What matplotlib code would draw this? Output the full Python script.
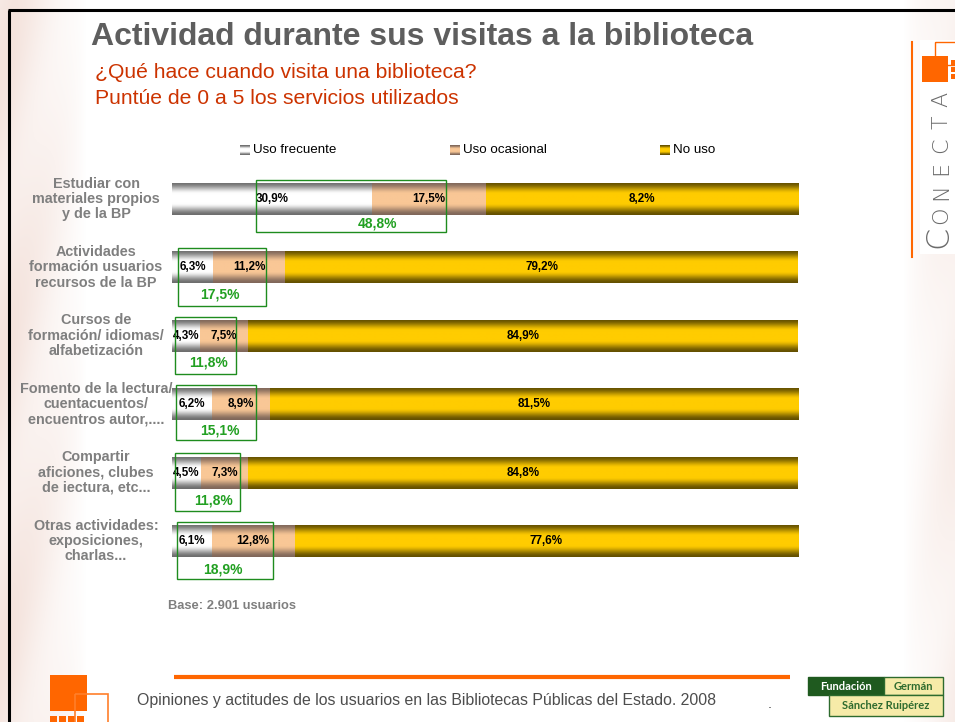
import numpy as np
import matplotlib
matplotlib.use("Agg")
import matplotlib.pyplot as plt
from matplotlib.patches import Rectangle

# ---------------- data ----------------
categorias = [
    "Estudiar con\nmateriales propios\ny de la BP",
    "Actividades\nformación usuarios\nrecursos de la BP",
    "Cursos de\nformación/ idiomas/\nalfabetización",
    "Fomento de la lectura/\ncuentacuentos/\nencuentros autor,....",
    "Compartir\naficiones, clubes\nde iectura, etc...",
    "Otras actividades:\nexposiciones,\ncharlas...",
]
frecuente = [30.9, 6.3, 4.3, 6.2, 4.5, 6.1]
ocasional = [17.5, 11.2, 7.5, 8.9, 7.3, 12.8]
no_uso = [48.2, 79.2, 84.9, 81.5, 84.8, 77.6]
no_uso_etiquetas = ["8,2%", "79,2%", "84,9%", "81,5%", "84,8%", "77,6%"]
totales = [48.8, 17.5, 11.8, 15.1, 11.8, 18.9]
series_nombres = ["Uso frecuente", "Uso ocasional", "No uso"]

# ---------------- layout helpers ----------------
W, H = 955, 722
fig = plt.figure(figsize=(W / 100, H / 100), dpi=100)
fig.patch.set_facecolor("white")

def fx(px):
    return px / W

def fy(py):
    return 1 - py / H

# background axes in pixel coordinates
bg = fig.add_axes([0, 0, 1, 1], zorder=0)
bg.set_xlim(0, W)
bg.set_ylim(H, 0)
bg.axis("off")

xs = np.arange(W)[None, :].astype(float)
ys = np.arange(H)[:, None].astype(float)
left = np.clip((85 - xs) / 72, 0, 1) ** 0.8
right = np.clip((xs - 903) / 52, 0, 1) ** 0.8
fold = 0.8 + 0.2 * np.sin((xs * 0.9 + ys * 0.3) / 14.0)
inten = np.maximum(left, right * 0.7) * fold * 0.42
pink = np.array([0.90, 0.74, 0.68])
img = 1 - inten[..., None] * (1 - pink)
img = np.clip(img, 0, 1)
bg.imshow(img, extent=(0, W, H, 0), aspect="auto", interpolation="bilinear", zorder=0)
# white box for CONECTA logo
bg.add_patch(Rectangle((920, 40), 35, 214, facecolor="white", edgecolor="none", zorder=1))
# frame
bg.plot([8, W], [10, 10], color="black", lw=2.2, zorder=2, solid_capstyle="butt")
bg.plot([8.5, 8.5], [10, H], color="black", lw=2.2, zorder=2, solid_capstyle="butt")

# titles
bg.text(91, 37, "Actividad durante sus visitas a la biblioteca", fontsize=23,
        fontweight="bold", color="#5E5E5E", va="center", ha="left",
        family="Liberation Sans", zorder=3)
bg.text(95, 73, "¿Qué hace cuando visita una biblioteca?", fontsize=15.2,
        color="#CC3300", va="center", ha="left", family="Liberation Sans", zorder=3)
bg.text(95, 98, "Puntúe de 0 a 5 los servicios utilizados", fontsize=15.2,
        color="#CC3300", va="center", ha="left", family="Liberation Sans", zorder=3)

# gradient helper
def grad(dark, bright, n=64):
    t = np.linspace(0, 1, n)
    m = np.minimum(t, 1 - t)
    u = np.clip(m / 0.36, 0, 1)
    w = u * u * (3 - 2 * u)
    d = np.array(matplotlib.colors.to_rgb(dark))
    b = np.array(matplotlib.colors.to_rgb(bright))
    c = d + (b - d) * w[:, None]
    return c[:, None, :]

paletas = [("#6E6E6E", "#FFFFFF"), ("#80675A", "#F9C796"), ("#645000", "#FFCC00")]
colores_medios = ["#D8D8D8", "#E8B888", "#F0C000"]

# legend (manual)
leg_x = [240, 450, 660]
for (d, b), name, lx in zip(paletas, series_nombres, leg_x):
    bg.imshow(grad(d, b, 16), extent=(lx, lx + 10, 155, 145), aspect="auto",
              interpolation="bilinear", zorder=3)
    bg.text(lx + 13, 150, name, fontsize=9.6, color="black", va="center", ha="left",
            family="Liberation Sans", zorder=3)

# ---------------- main axes ----------------
ax_left, ax_right = 172, 798
ax_top, ax_bot = 164.8, 575.2
ax = fig.add_axes([fx(ax_left), fy(ax_bot), fx(ax_right - ax_left), (ax_bot - ax_top) / H], zorder=2)
ax.set_facecolor("none")

n = len(categorias)
ypos = np.arange(n)
fre = np.array(frecuente)
oca = np.array(ocasional)
nou = np.array(no_uso)
tot = fre + oca + nou
segs = [fre / tot, oca / tot, nou / tot]
bar_h = 0.468

lefts = np.zeros(n)
for k, s in enumerate(segs):
    bars = ax.barh(ypos, s, left=lefts, height=bar_h, color=colores_medios[k],
                   edgecolor="none", zorder=2)
    g = grad(*paletas[k])
    for p in bars.patches:
        x0, y0 = p.get_x(), p.get_y()
        im = ax.imshow(g, extent=(x0, x0 + p.get_width(), y0 + p.get_height(), y0),
                       aspect="auto", interpolation="bilinear", zorder=3)
        im.set_clip_path(p)
    lefts = lefts + s

ax.set_xlim(0, 1)
ax.set_ylim(n - 0.5, -0.5)
ax.axis("off")

def fmt(v):
    return f"{v:.1f}".replace(".", ",") + "%"

# segment labels
for i in range(n):
    c0 = segs[0][i] / 2
    c1 = segs[0][i] + segs[1][i] / 2
    c2 = segs[0][i] + segs[1][i] + segs[2][i] / 2
    for cx, txt in zip([c0, c1, c2], [fmt(frecuente[i]), fmt(ocasional[i]), no_uso_etiquetas[i]]):
        ax.text(cx, i, txt, ha="center", va="center", fontsize=8.4, fontweight="bold",
                color="black", family="Liberation Sans", zorder=5)

# category labels
ytr = ax.get_yaxis_transform()
lab_x = (96 - ax_left) / (ax_right - ax_left)
for i, c in enumerate(categorias):
    ax.text(lab_x, i, c, transform=ytr, ha="center", va="center", multialignment="center",
            fontsize=10.4, fontweight="bold", color="#7F7F7F", family="Liberation Sans",
            linespacing=1.12, clip_on=False, zorder=5)

# green boxes around frequent+occasional, with totals
box_px = [(256, 446), (178, 266), (175, 236), (176, 256), (175, 240), (177, 273)]
box_bottom = [0.48, 0.56, 0.555, 0.53, 0.555, 0.555]
tot_px = [377, 220, 208, 220, 213, 223]
tot_dy = [0.365, 0.39, 0.39, 0.39, 0.41, 0.42]
span = ax_right - ax_left
for i in range(n):
    a = (box_px[i][0] - ax_left) / span
    b = (box_px[i][1] - ax_left) / span
    ax.add_patch(Rectangle((a, i - 0.28), b - a, box_bottom[i] + 0.28, facecolor="none",
                           edgecolor="#1E8C1E", lw=1.0, zorder=6, clip_on=False))
    ax.text((tot_px[i] - ax_left) / span, i + tot_dy[i], fmt(totales[i]), ha="center",
            va="center", fontsize=10, fontweight="bold", color="#22A022",
            family="Liberation Sans", zorder=6, clip_on=False)

# base note
bg.text(168, 606, "Base: 2.901 usuarios", fontsize=9.3, fontweight="bold", color="#7F7F7F",
        va="center", ha="left", family="Liberation Sans", zorder=3)

# footer
bg.plot([174, 790], [677, 677], color="#FF6600", lw=3, solid_capstyle="butt", zorder=3)
bg.text(137, 700, "Opiniones y actitudes de los usuarios en las Bibliotecas Públicas del Estado. 2008",
        fontsize=11.4, color="#4D4D4D", va="center", ha="left", family="Liberation Sans", zorder=3)
bg.text(770, 704, ".", fontsize=9, color="#333333", va="center", ha="center", zorder=3)

# bottom-left logo
bg.add_patch(Rectangle((50, 675), 37, 36, facecolor="#FF6600", edgecolor="none", zorder=3))
bg.add_patch(Rectangle((75, 694), 33, 40, facecolor="none", edgecolor="#FF7F2A", lw=1.2, zorder=4))
for sx in [50, 59, 68, 77]:
    bg.add_patch(Rectangle((sx, 716), 7, 7, facecolor="#FF6600", edgecolor="none", zorder=3))

# bottom-right logo
bg.add_patch(Rectangle((808, 677), 76, 18, facecolor="#1F5A1F", edgecolor="#1F5A1F", lw=1, zorder=3))
bg.add_patch(Rectangle((884, 677), 59, 18, facecolor="#F6EBA8", edgecolor="#2E6B2E", lw=1, zorder=3))
bg.add_patch(Rectangle((829, 695), 114, 21, facecolor="#F6EBA8", edgecolor="#2E6B2E", lw=1, zorder=3))
bg.text(846, 686.5, "Fundación", fontsize=8, fontweight="bold", color="white", ha="center",
        va="center", family="Lato", zorder=4)
bg.text(913, 686.5, "Germán", fontsize=8, fontweight="bold", color="#2E6B2E", ha="center",
        va="center", family="Lato", zorder=4)
bg.text(886, 705.5, "Sánchez Ruipérez", fontsize=8, fontweight="bold", color="#2E6B2E",
        ha="center", va="center", family="Lato", zorder=4)

# top-right CONECTA logo
bg.plot([912, 912], [42, 257], color="#FF6600", lw=1.5, zorder=3)
bg.add_patch(Rectangle((922, 56), 26, 26, facecolor="#FF6600", edgecolor="none", zorder=3))
bg.add_patch(Rectangle((935, 42), 25, 23, facecolor="none", edgecolor="#FF6600", lw=1, zorder=4))
for sy in [60, 67, 74]:
    bg.add_patch(Rectangle((951, sy), 4, 5, facecolor="#FF6600", edgecolor="none", zorder=3))
letras = ["C", "O", "N", "E", "C", "T", "A"]
letras_y = [237, 215, 192, 168, 145, 122, 99]
for j, (L, ly) in enumerate(zip(letras, letras_y)):
    bg.text(941 if j else 938, ly, L, rotation=90, fontsize=16 if j else 23, color="#6B6B6B",
            ha="center", va="center", family="DejaVu Sans", fontweight="light", zorder=4)

fig.savefig("out.png", dpi=100, facecolor="white")
